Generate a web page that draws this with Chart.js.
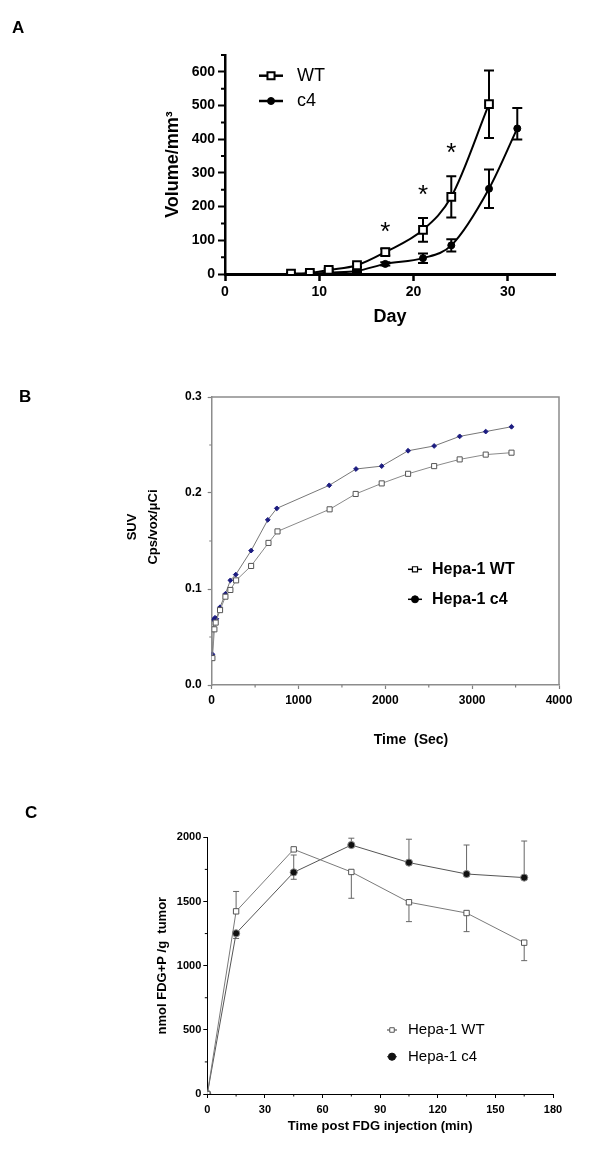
<!DOCTYPE html>
<html>
<head>
<meta charset="utf-8">
<script src="https://cdn.jsdelivr.net/npm/chart.js@4.4.1/dist/chart.umd.min.js"></script>
<style>
  body { margin: 0; background: #fff; }
  #wrap { position: relative; width: 600px; height: 1152px; }
  canvas { position: absolute; left: 0; }
  .tag { position: absolute; font: bold 17px "Liberation Sans", Arial, sans-serif; line-height: 1; }
</style>
</head>
<body>
<div id="wrap">
  <canvas id="chart-a" width="600" height="340" style="top:0"></canvas>
  <canvas id="chart-b" width="600" height="420" style="top:340px"></canvas>
  <canvas id="chart-c" width="600" height="392" style="top:760px"></canvas>
  <div class="tag" style="left:12px;top:19px">A</div>
  <div class="tag" style="left:19px;top:388px">B</div>
  <div class="tag" style="left:25px;top:804px">C</div>
</div>
<script>
// ---- A: tumour volume ----
const dayWT = [7, 9, 11, 14, 17, 21, 24, 28];
const volWT = [1, 3, 12, 26, 65, 131, 229, 504];
const errWT = [2, 3, 4, 5, 10, 35, 61, 100];
const dayC4 = [7, 9, 11, 14, 17, 21, 24, 28, 31];
const volC4 = [0, 1, 4, 9, 30, 47, 85, 253, 432];
const errC4Up = [1, 1, 2, 3, 5, 14, 18, 57, 61];
const errC4Down = [1, 1, 2, 3, 5, 14, 18, 57, 33];
const starDays = [17, 21, 24];
const starVol = [141, 253, 378];
const xTicksA = [0, 10, 20, 30];
const yTicksA = [0, 100, 200, 300, 400, 500, 600];
const yMinorA = [50, 150, 250, 350, 450, 550, 650];

// ---- B: SUV time course ----
const secWT = [8, 31, 46, 96, 158, 215, 281, 454, 654, 758, 1358, 1658, 1958, 2262, 2562, 2856, 3156, 3453];
const suvWT = [0.028, 0.058, 0.065, 0.078, 0.092, 0.099, 0.109, 0.124, 0.148, 0.160, 0.183, 0.199, 0.210, 0.220, 0.228, 0.235, 0.240, 0.242];
const secC4 = [8, 23, 38, 54, 96, 158, 215, 277, 454, 646, 750, 1354, 1662, 1958, 2262, 2562, 2856, 3156, 3453];
const suvC4 = [0.032, 0.068, 0.070, 0.069, 0.081, 0.095, 0.109, 0.115, 0.140, 0.172, 0.184, 0.208, 0.225, 0.228, 0.244, 0.249, 0.259, 0.264, 0.269];
const xTicksB = [0, 1000, 2000, 3000, 4000];
const xMinorB = [500, 1500, 2500, 3500];
const yTicksB = [0, 0.1, 0.2, 0.3];
const yMinorB = [0.05, 0.15, 0.25];

// ---- C: FDG+P uptake ----
const minC = [0, 15, 45, 75, 105, 135, 165];
const fdgWT = [0, 1423, 1906, 1730, 1494, 1410, 1179];
const fdgWTUp = [0, 155, 0, 0, 0, 0, 0];
const fdgWTDown = [0, 0, 0, 205, 151, 145, 140];
const fdgC4 = [0, 1252, 1727, 1940, 1803, 1714, 1686];
const fdgC4Up = [0, 0, 135, 53, 182, 226, 285];
const fdgC4Down = [0, 40, 54, 0, 0, 0, 0];
const xTicksC = [0, 30, 60, 90, 120, 150, 180];
const xMinorC = [15, 45, 75, 105, 135, 165];
const yTicksC = [0, 500, 1000, 1500, 2000];
const yMinorC = [250, 750, 1250, 1750];

const FONT = '"Liberation Sans", Arial, sans-serif';
Chart.defaults.font.family = FONT;
Chart.defaults.color = '#000';

const pts = (xs, ys) => xs.map((x, i) => ({ x, y: ys[i] }));
const plain = v => String(v);
const fixTicks = vals => s => { s.ticks = vals.map(v => ({ value: v })); };
// force the axis box so the plot area lands where the figure has it
const fixBox = size => s => { if (s.isHorizontal()) s.height = size; else s.width = size; };

const minorTicks = {
  id: 'minorTicks',
  afterDraw(chart, args, o) {
    const { ctx, chartArea: a, scales } = chart;
    ctx.save();
    ctx.strokeStyle = o.color; ctx.lineWidth = o.width;
    ctx.beginPath();
    (o.y || []).forEach(v => { const p = scales.y.getPixelForValue(v); ctx.moveTo(a.left - o.length, p); ctx.lineTo(a.left, p); });
    (o.x || []).forEach(v => { const p = scales.x.getPixelForValue(v); ctx.moveTo(p, a.bottom); ctx.lineTo(p, a.bottom + o.length); });
    ctx.stroke();
    ctx.restore();
  }
};

const errorBars = {
  id: 'errorBars',
  beforeDatasetsDraw(chart, args, o) {
    const { ctx, scales } = chart;
    chart.data.datasets.forEach((ds, i) => {
      if (!ds.errUp) return;
      const meta = chart.getDatasetMeta(i);
      ctx.save();
      ctx.strokeStyle = o.color; ctx.lineWidth = o.width;
      meta.data.forEach((el, j) => {
        const v = ds.data[j].y;
        [v + ds.errUp[j], v - ds.errDown[j]].forEach(end => {
          if (end === v) return;
          const py = scales.y.getPixelForValue(end);
          ctx.beginPath();
          ctx.moveTo(el.x, el.y); ctx.lineTo(el.x, py);
          ctx.moveTo(el.x - o.cap, py); ctx.lineTo(el.x + o.cap, py);
          ctx.stroke();
        });
      });
      ctx.restore();
    });
  }
};

const pointLegend = {
  id: 'pointLegend',
  afterDraw(chart, args, o) {
    const { ctx } = chart;
    ctx.save();
    chart.data.datasets.forEach((ds, i) => {
      const it = o.items[i];
      const y = o.y[i];
      ctx.strokeStyle = o.lineColor; ctx.lineWidth = o.lineWidth;
      ctx.beginPath(); ctx.moveTo(o.x0, y); ctx.lineTo(o.x1, y); ctx.stroke();
      ctx.fillStyle = it.fill; ctx.strokeStyle = it.stroke; ctx.lineWidth = it.borderWidth;
      Chart.helpers.drawPoint(ctx, { pointStyle: it.style, radius: it.radius, borderWidth: it.borderWidth, rotation: 0 }, (o.x0 + o.x1) / 2, y);
      ctx.fillStyle = '#000'; ctx.font = o.font; ctx.textBaseline = 'middle'; ctx.textAlign = 'left';
      ctx.fillText(ds.label, o.textX, y);
    });
    ctx.restore();
  }
};

const stars = {
  id: 'stars',
  afterDatasetsDraw(chart, args, o) {
    const { ctx, scales } = chart;
    ctx.save();
    ctx.font = o.font; ctx.textAlign = 'center'; ctx.textBaseline = 'alphabetic'; ctx.fillStyle = '#000';
    starDays.forEach((d, i) => {
      ctx.fillText('*', scales.x.getPixelForValue(d), scales.y.getPixelForValue(starVol[i]) + o.drop);
    });
    ctx.restore();
  }
};

const frame = {
  id: 'frame',
  afterDraw(chart, args, o) {
    const { ctx, chartArea: a } = chart;
    ctx.save();
    ctx.strokeStyle = o.color; ctx.lineWidth = o.width;
    ctx.beginPath(); ctx.moveTo(a.left, a.top); ctx.lineTo(a.right, a.top); ctx.lineTo(a.right, a.bottom); ctx.stroke();
    ctx.restore();
  }
};

const freeText = {
  id: 'freeText',
  afterDraw(chart, args, o) {
    const { ctx } = chart;
    o.items.forEach(t => {
      ctx.save();
      ctx.translate(t.x, t.y); ctx.rotate(t.rot || 0);
      ctx.font = t.font; ctx.fillStyle = '#000'; ctx.textAlign = 'center'; ctx.textBaseline = 'middle';
      ctx.fillText(t.text, 0, 0);
      ctx.restore();
    });
  }
};

const base = { responsive: false, animation: false, devicePixelRatio: 1, events: [] };

// ---------- Panel A ----------
new Chart(document.getElementById('chart-a'), {
  type: 'line',
  data: {
    datasets: [
      { label: 'WT', data: pts(dayWT, volWT), errUp: errWT, errDown: errWT,
        borderColor: '#000', borderWidth: 2, cubicInterpolationMode: 'monotone',
        pointStyle: 'rect', pointRadius: 5.5, pointBorderWidth: 2, pointBackgroundColor: '#fff', pointBorderColor: '#000' },
      { label: 'c4', data: pts(dayC4, volC4), errUp: errC4Up, errDown: errC4Down,
        borderColor: '#000', borderWidth: 2, cubicInterpolationMode: 'monotone',
        pointStyle: 'circle', pointRadius: 3.5, pointBorderWidth: 1, pointBackgroundColor: '#000', pointBorderColor: '#000' },
    ],
  },
  options: {
    ...base,
    layout: { padding: { left: 162, top: 55, right: 45, bottom: 12.5 } },
    plugins: {
      legend: { display: false }, tooltip: { enabled: false },
      minorTicks: { y: yMinorA, length: 4, width: 2, color: '#000' },
      errorBars: { color: '#000', width: 2, cap: 5 },
      stars: { font: `26px ${FONT}`, drop: 14 },
      pointLegend: {
        x0: 259, x1: 283, textX: 297, y: [75.7, 101], lineColor: '#000', lineWidth: 2.5, font: `18px ${FONT}`,
        items: [
          { style: 'rect', radius: 5, fill: '#fff', stroke: '#000', borderWidth: 2 },
          { style: 'circle', radius: 3.5, fill: '#000', stroke: '#000', borderWidth: 1 },
        ],
      },
    },
    scales: {
      x: {
        type: 'linear', min: 0, max: 35,
        afterBuildTicks: fixTicks(xTicksA), afterFit: fixBox(53.5),
        grid: { drawOnChartArea: false, tickLength: 7, tickWidth: 2.5, tickColor: '#000' },
        border: { color: '#000', width: 3 },
        ticks: { padding: 3, font: { size: 14, weight: 'bold' }, callback: plain },
        title: { display: true, text: 'Day', padding: 0, font: { size: 18, weight: 'bold' } },
      },
      y: {
        min: 0, max: 650,
        afterBuildTicks: fixTicks(yTicksA), afterFit: fixBox(63),
        grid: { drawOnChartArea: false, tickLength: 7, tickWidth: 2, tickColor: '#000' },
        border: { color: '#000', width: 2.5 },
        ticks: { padding: 3, font: { size: 14, weight: 'bold' }, callback: plain },
        title: { display: true, text: 'Volume/mm³', padding: 0, font: { size: 18, weight: 'bold' } },
      },
    },
  },
  plugins: [minorTicks, errorBars, stars, pointLegend],
});

// ---------- Panel B ----------
new Chart(document.getElementById('chart-b'), {
  type: 'line',
  data: {
    datasets: [
      { label: 'Hepa-1 WT', data: pts(secWT, suvWT), borderColor: '#8a8a8a', borderWidth: 1,
        pointStyle: 'rect', pointRadius: 3.6, pointBorderWidth: 1, pointBackgroundColor: '#fff', pointBorderColor: '#555' },
      { label: 'Hepa-1 c4', data: pts(secC4, suvC4), borderColor: '#777', borderWidth: 1,
        pointStyle: 'rectRot', pointRadius: 2.4, pointBorderWidth: 1, pointBackgroundColor: '#1c1c80', pointBorderColor: '#1c1c80' },
    ],
  },
  options: {
    ...base,
    layout: { padding: { left: 100, top: 57, right: 41, bottom: 35 } },
    plugins: {
      legend: { display: false }, tooltip: { enabled: false },
      minorTicks: { x: xMinorB, y: yMinorB, length: 2.5, width: 1.2, color: '#808080' },
      frame: { color: '#8c8c8c', width: 1.5 },
      freeText: {
        items: [
          { text: 'SUV', x: 132, y: 187, rot: -Math.PI / 2, font: `bold 13px ${FONT}` },
          { text: 'Cps/vox/μCi', x: 153, y: 187, rot: -Math.PI / 2, font: `bold 13px ${FONT}` },
          { text: 'Time  (Sec)', x: 411, y: 400, font: `bold 14px ${FONT}` },
        ],
      },
      pointLegend: {
        x0: 408, x1: 422, textX: 432, y: [229.3, 259.3], lineColor: '#000', lineWidth: 1.5, font: `bold 16px ${FONT}`,
        items: [
          { style: 'rect', radius: 3.6, fill: '#fff', stroke: '#000', borderWidth: 1.2 },
          { style: 'circle', radius: 3.5, fill: '#000', stroke: '#000', borderWidth: 1 },
        ],
      },
    },
    scales: {
      x: {
        type: 'linear', min: 0, max: 4000,
        afterBuildTicks: fixTicks(xTicksB), afterFit: fixBox(40),
        grid: { drawOnChartArea: false, tickLength: 4, tickWidth: 1.2, tickColor: '#808080' },
        border: { color: '#8c8c8c', width: 1.5 },
        ticks: { padding: 4, font: { size: 12, weight: 'bold' }, callback: plain },
      },
      y: {
        min: 0, max: 0.3,
        afterBuildTicks: fixTicks(yTicksB), afterFit: fixBox(111.7),
        grid: { drawOnChartArea: false, tickLength: 4, tickWidth: 1.2, tickColor: '#808080' },
        border: { color: '#8c8c8c', width: 1.5 },
        ticks: { padding: 6, font: { size: 12, weight: 'bold' }, callback: v => v.toFixed(1) },
      },
    },
  },
  plugins: [minorTicks, frame, freeText, pointLegend],
});

// ---------- Panel C ----------
new Chart(document.getElementById('chart-c'), {
  type: 'line',
  data: {
    datasets: [
      { label: 'Hepa-1 WT', data: pts(minC, fdgWT), errUp: fdgWTUp, errDown: fdgWTDown,
        borderColor: '#7a7a7a', borderWidth: 1,
        pointStyle: 'rect', pointRadius: 3.8, pointBorderWidth: 1, pointBackgroundColor: '#fff', pointBorderColor: '#555' },
      { label: 'Hepa-1 c4', data: pts(minC, fdgC4), errUp: fdgC4Up, errDown: fdgC4Down,
        borderColor: '#555', borderWidth: 1,
        pointStyle: 'circle', pointRadius: 3.6, pointBorderWidth: 1, pointBackgroundColor: '#111', pointBorderColor: '#888' },
    ],
  },
  options: {
    ...base,
    layout: { padding: { left: 155, top: 77.3, right: 47, bottom: 18.2 } },
    plugins: {
      legend: { display: false }, tooltip: { enabled: false },
      minorTicks: { x: xMinorC, y: yMinorC, length: 2.5, width: 1, color: '#000' },
      errorBars: { color: '#666', width: 1, cap: 3 },
      pointLegend: {
        x0: 387, x1: 397, textX: 408, y: [270, 296.7], lineColor: '#555', lineWidth: 1.2, font: `15px ${FONT}`,
        items: [
          { style: 'rect', radius: 3.2, fill: '#fff', stroke: '#555', borderWidth: 1 },
          { style: 'circle', radius: 3.6, fill: '#111', stroke: '#111', borderWidth: 1 },
        ],
      },
    },
    scales: {
      x: {
        type: 'linear', min: 0, max: 180,
        afterBuildTicks: fixTicks(xTicksC), afterFit: fixBox(39.8),
        grid: { drawOnChartArea: false, tickLength: 4, tickWidth: 1, tickColor: '#000' },
        border: { color: '#000', width: 1 },
        ticks: { padding: 5, font: { size: 11, weight: 'bold' }, callback: plain },
        title: { display: true, text: 'Time post FDG injection (min)', padding: 0, font: { size: 13, weight: 'bold' } },
      },
      y: {
        min: 0, max: 2000,
        afterBuildTicks: fixTicks(yTicksC), afterFit: fixBox(52.3),
        grid: { drawOnChartArea: false, tickLength: 4, tickWidth: 1, tickColor: '#000' },
        border: { color: '#000', width: 1 },
        ticks: { padding: 2, font: { size: 11, weight: 'bold' }, callback: plain },
        title: { display: true, text: 'nmol FDG+P /g  tumor', padding: 0, font: { size: 13, weight: 'bold' } },
      },
    },
  },
  plugins: [minorTicks, errorBars, pointLegend],
});
</script>
</body>
</html>
